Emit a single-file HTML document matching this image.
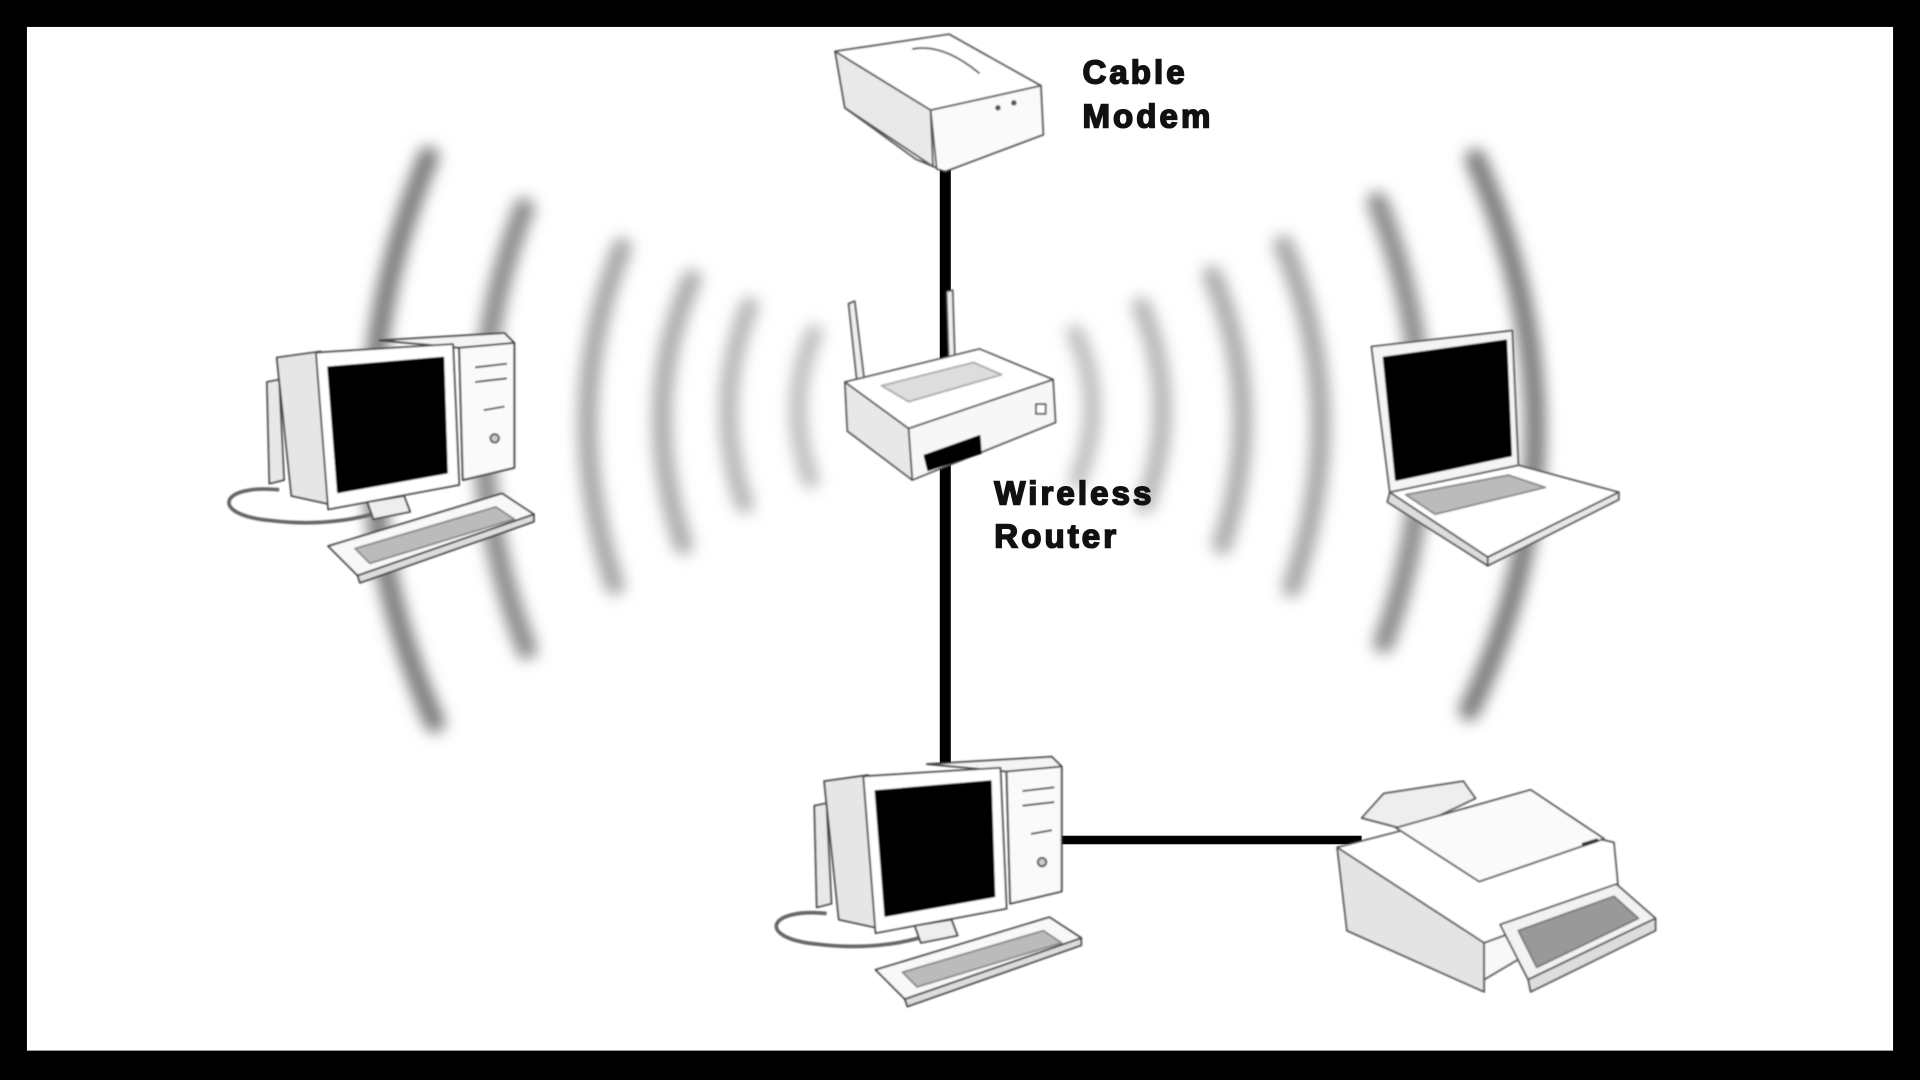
<!DOCTYPE html>
<html><head><meta charset="utf-8"><style>
html,body{margin:0;padding:0;background:#000;width:1920px;height:1080px;overflow:hidden}
svg{display:block}
text{font-family:"Liberation Sans",Arial,sans-serif;font-weight:bold;fill:#111;stroke:#111;stroke-width:1.3;letter-spacing:2.5px}
</style></head><body>
<svg width="1920" height="1080" viewBox="0 0 1568 882" xmlns="http://www.w3.org/2000/svg">
<defs>
<filter id="b" x="-50%" y="-20%" width="200%" height="140%"><feGaussianBlur stdDeviation="6"/></filter>
<filter id="s"><feGaussianBlur stdDeviation="0.6"/></filter>
<g id="pc" stroke="#444" stroke-width="1.5" fill="#fff" stroke-linejoin="round">
  <path d="M228 400 C180 395 170 420 220 425 C260 430 300 425 330 410" fill="none" stroke="#666" stroke-width="3"/>
  <path d="M310 278 L412 272 L420 280 L420 382 L378 392 L375 284 Z" fill="#f4f4f4"/>
  <path d="M375 284 L420 280 L420 382 L378 392 Z" fill="#fafafa"/>
  <path d="M388 300 L414 297 M388 312 L414 309 M395 335 L412 332" fill="none"/>
  <circle cx="404" cy="358" r="3.5" fill="#ccc"/>
  <path d="M218 312 L228 310 L232 392 L220 395 Z" fill="#e8e8e8"/>
  <path d="M226 292 L262 287 L270 412 L238 405 Z" fill="#e6e6e6"/>
  <path d="M258 288 L370 281 L375 396 L268 416 Z"/>
  <path d="M268 300 L362 292 L365 386 L276 402 Z" fill="#000" stroke="#000"/>
  <path d="M300 410 L330 405 L335 418 L305 424 Z" fill="#eee"/>
  <path d="M268 446 L410 403 L436 420 L292 470 Z" fill="#f8f8f8"/>
  <path d="M290 448 L405 414 L420 424 L302 460 Z" fill="#bbb" stroke="#888"/>
  <path d="M292 470 L436 420 L436 426 L294 476 Z" fill="#ddd"/>
</g>
</defs>
<rect x="0" y="0" width="1568" height="882" fill="#000"/>
<rect x="22" y="22" width="1524" height="836" fill="#fff"/>

<g fill="none" stroke-linecap="round" filter="url(#b)">
  <path d="M665 272 Q640 330 662 392" stroke="#bbb" stroke-width="14"/>
  <path d="M612 250 Q580 330 608 412" stroke="#b4b4b4" stroke-width="15"/>
  <path d="M565 228 Q520 330 558 445" stroke="#aaa" stroke-width="16"/>
  <path d="M508 202 Q455 335 502 478" stroke="#a4a4a4" stroke-width="16"/>
  <path d="M428 170 Q360 345 430 530" stroke="#8a8a8a" stroke-width="17"/>
  <path d="M350 128 Q255 360 355 590" stroke="#7a7a7a" stroke-width="17"/>
  <path d="M878 272 Q905 330 880 392" stroke="#bbb" stroke-width="14"/>
  <path d="M932 250 Q965 330 935 412" stroke="#b4b4b4" stroke-width="15"/>
  <path d="M990 225 Q1035 330 998 445" stroke="#aaa" stroke-width="16"/>
  <path d="M1048 200 Q1105 335 1055 480" stroke="#a4a4a4" stroke-width="16"/>
  <path d="M1125 165 Q1195 345 1130 525" stroke="#8a8a8a" stroke-width="17"/>
  <path d="M1205 130 Q1305 360 1200 580" stroke="#7a7a7a" stroke-width="17"/>
</g>

<line x1="772" y1="138" x2="772" y2="625" stroke="#000" stroke-width="9"/>
<line x1="862" y1="686" x2="1112" y2="686" stroke="#000" stroke-width="7"/>

<g filter="url(#s)">
<g stroke="#555" stroke-width="1.5" fill="#fff" stroke-linejoin="round">
  <path d="M682 42 L775 28 L850 70 L852 110 L772 140 L748 130 L690 88 Z" fill="#f6f6f6"/>
  <path d="M682 42 L775 28 L850 70 L760 90 Z"/>
  <path d="M760 90 L850 70 L852 110 L772 140 L765 138 Z" fill="#fafafa"/>
  <path d="M682 42 L760 90 L762 136 L690 88 Z" fill="#e9e9e9"/>
  <path d="M745 40 Q770 35 800 60" fill="none"/>
  <circle cx="815" cy="88" r="1.5" fill="#555"/><circle cx="828" cy="84" r="1.5" fill="#555"/>
</g>
<g stroke="#555" stroke-width="1.5" fill="#fff" stroke-linejoin="round">
  <path d="M693 248 L698 246 L706 312 L700 313 Z" fill="#eee"/>
  <path d="M773 238 L778 237 L780 300 L775 300 Z" fill="#eee"/>
  <path d="M690 312 L800 285 L860 310 L742 350 Z"/>
  <path d="M742 350 L860 310 L862 345 L745 392 Z" fill="#f7f7f7"/>
  <path d="M690 312 L742 350 L745 392 L692 352 Z" fill="#e8e8e8"/>
  <path d="M720 315 L795 296 L818 306 L742 328 Z" fill="#ddd" stroke="#aaa"/>
  <path d="M755 372 L800 356 L801 370 L758 384 Z" fill="#000" stroke="#000"/>
  <rect x="846" y="330" width="8" height="8" fill="#fff"/>
</g>
<use href="#pc"/>
<use href="#pc" transform="translate(447,346)"/>
<g stroke="#555" stroke-width="1.5" fill="#fff" stroke-linejoin="round">
  <path d="M1120 283 L1235 270 L1240 380 L1135 402 Z" fill="#f4f4f4"/>
  <path d="M1130 292 L1230 278 L1234 372 L1140 392 Z" fill="#000" stroke="#000"/>
  <path d="M1135 402 L1240 380 L1322 402 L1215 455 Z"/>
  <path d="M1148 404 L1232 388 L1262 398 L1172 420 Z" fill="#bbb" stroke="#888"/>
  <path d="M1135 402 L1215 455 L1215 462 L1133 410 Z" fill="#ddd"/>
  <path d="M1215 455 L1322 402 L1322 408 L1215 462 Z" fill="#e8e8e8"/>
</g>
<g stroke="#555" stroke-width="1.5" fill="#fff" stroke-linejoin="round">
  <path d="M1112 668 L1130 648 L1195 638 L1205 652 L1150 678 Z" fill="#eee"/>
  <path d="M1092 692 L1208 662 L1318 688 L1322 730 L1212 770 Z"/>
  <path d="M1140 676 L1250 645 L1310 685 L1208 720 Z" fill="#fafafa"/>
  <path d="M1092 692 L1212 770 L1212 810 L1100 760 Z" fill="#e4e4e4"/>
  <path d="M1212 770 L1322 730 L1322 740 L1300 748 L1212 800 Z" fill="#f8f8f8"/>
  <path d="M1225 755 L1320 722 L1352 750 L1248 800 Z" fill="#f2f2f2"/>
  <path d="M1240 760 L1318 732 L1338 750 L1255 790 Z" fill="#999" stroke="#777"/>
  <path d="M1248 800 L1352 750 L1352 760 L1250 810 Z" fill="#ddd"/>
  <path d="M1292 690 L1305 686" stroke="#333" stroke-width="3"/>
</g>
</g>

<text x="884" y="68" font-size="27">Cable</text>
<text x="884" y="104" font-size="27">Modem</text>
<text x="812" y="412" font-size="27">Wireless</text>
<text x="812" y="447" font-size="27">Router</text>
</svg>
</body></html>
